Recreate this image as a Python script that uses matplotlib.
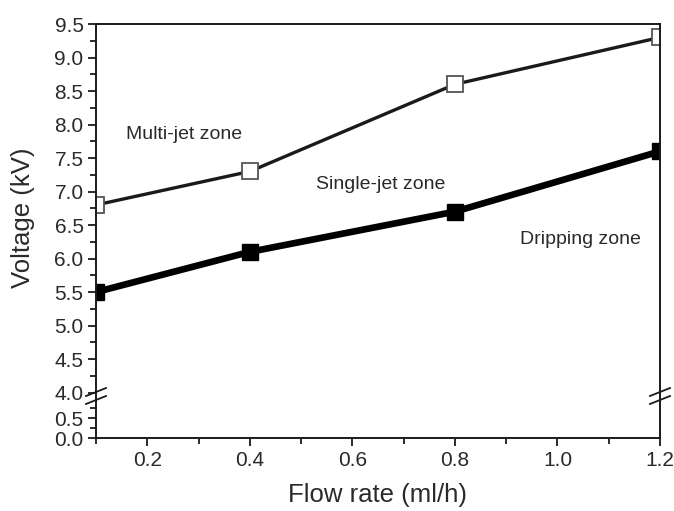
import matplotlib
matplotlib.use("Agg")
import matplotlib.pyplot as plt
from matplotlib.ticker import MultipleLocator
from matplotlib.lines import Line2D

plt.rcParams["font.family"] = ["Liberation Sans", "DejaVu Sans"]

flow_rate = [0.1, 0.4, 0.8, 1.2]
multi_jet_onset = [6.8, 7.3, 8.6, 9.3]      # open squares
single_jet_onset = [5.5, 6.1, 6.7, 7.6]     # filled squares

INK = "#1a1a1a"
TXT = "#2a2a2a"
W, H = 674, 511
fig = plt.figure(figsize=(W / 100, H / 100), dpi=100)

# pixel layout of the broken axis
left_px, right_px = 96, 660
top_px, brk_px, bot_px = 24, 402, 438
fx0, fw = left_px / W, (right_px - left_px) / W
ax_hi = fig.add_axes([fx0, (H - brk_px) / H, fw, (brk_px - top_px) / H])
ax_lo = fig.add_axes([fx0, (H - bot_px) / H, fw, (bot_px - brk_px) / H], sharex=ax_hi)

for ax in (ax_hi, ax_lo):
    ax.plot(flow_rate, multi_jet_onset, color=INK, lw=2.4, marker="s", ms=11,
            mfc="white", mec="#555555", mew=1.3)
    ax.plot(flow_rate, single_jet_onset, color="black", lw=4.8, marker="s", ms=11,
            mfc="black", mec="black")
    ax.tick_params(which="both", direction="out", color=INK, width=1.3,
                   labelsize=15, labelcolor=TXT)
    ax.tick_params(which="major", length=6, pad=3)
    ax.tick_params(which="minor", length=4)
    for sp in ax.spines.values():
        sp.set_linewidth(1.4)
        sp.set_color(INK)

ax_hi.set_xlim(0.1, 1.2)
ax_hi.set_ylim(3.86, 9.5)
ax_hi.yaxis.set_major_locator(MultipleLocator(0.5))
ax_hi.yaxis.set_minor_locator(MultipleLocator(0.25))
ax_hi.yaxis.set_major_formatter(lambda v, p: f"{v:.1f}")
ax_hi.spines["bottom"].set_visible(False)
ax_hi.tick_params(axis="x", which="both", bottom=False, labelbottom=False)

ax_lo.set_ylim(0, 0.9)
ax_lo.set_yticks([0.0, 0.5])
ax_lo.set_yticks([0.25, 0.75], minor=True)
ax_lo.yaxis.set_major_formatter(lambda v, p: f"{v:.1f}")
ax_lo.spines["top"].set_visible(False)
ax_lo.xaxis.set_major_locator(MultipleLocator(0.2))
ax_lo.xaxis.set_minor_locator(MultipleLocator(0.1))
ax_lo.xaxis.set_major_formatter(lambda v, p: f"{v:.1f}")
ax_lo.set_xlabel("Flow rate (ml/h)", fontsize=18.5, color=TXT, labelpad=10)
fig.text(23 / W, 1 - 218 / H, "Voltage (kV)", rotation=90, ha="center", va="center",
         fontsize=18.5, color=TXT)

# break marks on both spines
for xp in (left_px, right_px):
    for dy in (-4, 4):
        x0, x1 = (xp - 10) / W, (xp + 10) / W
        y0, y1 = 1 - (brk_px - 6 + dy + 4) / H, 1 - (brk_px - 6 + dy - 4) / H
        fig.add_artist(Line2D([x0, x1], [y0, y1], color=INK, lw=1.3))

ax_hi.text(0.158, 7.85, "Multi-jet zone", fontsize=14, color=TXT, va="center")
ax_hi.text(0.529, 7.11, "Single-jet zone", fontsize=14, color=TXT, va="center")
ax_hi.text(0.927, 6.28, "Dripping zone", fontsize=14, color=TXT, va="center")

fig.savefig("out.png", dpi=100, facecolor="white")
